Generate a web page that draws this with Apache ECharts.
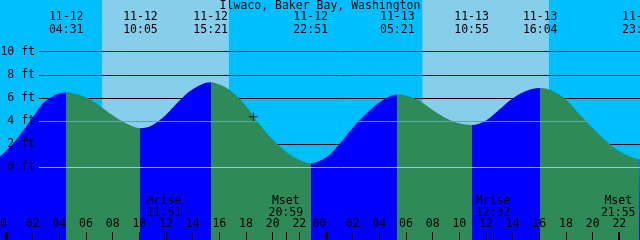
<!DOCTYPE html>
<html>
<head>
<meta charset="utf-8">
<script src="https://cdn.jsdelivr.net/npm/echarts@6/dist/echarts.min.js"></script>
<style>
  html, body { margin: 0; padding: 0; background: #fff; }
  #chart { width: 640px; height: 240px; }
</style>
</head>
<body>
<div id="chart"></div>
<script>
// 潮位读数：横轴为 11-12 00:00 起的小时数，纵轴为英尺
const tideHours = [-0.45, 0, 1, 2, 3, 4.517, 6, 7, 8, 9, 10.083, 11, 12, 13, 14, 15.35, 16, 17, 18, 19, 20, 21, 22, 22.85,
  24, 25, 26, 27, 28, 29.35, 30, 31, 32, 33, 34, 34.917, 36, 37, 38, 39, 40.067, 41, 42, 43, 44, 45, 46, 47, 47.5, 47.55];
const tideFeet = [0.92, 1.4, 2.7, 4.3, 5.75, 6.49, 6.05, 5.35, 4.5, 3.8, 3.37, 3.66, 4.55, 5.75, 6.75, 7.35, 7.15, 6.5, 5.3, 3.75, 2.4, 1.35, 0.65, 0.35,
  0.85, 2.0, 3.4, 4.6, 5.6, 6.3, 6.2, 5.75, 4.95, 4.25, 3.8, 3.66, 4.05, 5.0, 5.95, 6.6, 6.86, 6.6, 5.85, 4.6, 3.4, 2.3, 1.4, 0.85, 0.7, 0.7];

// 高低潮时刻（顶部标签）
const extremaHours = [4.517, 10.083, 15.35, 22.85, 29.35, 34.917, 40.067, 47.5];
const extremaLabels = ["11-12\n04:31", "11-12\n10:05", "11-12\n15:21", "11-12\n22:51",
  "11-13\n05:21", "11-13\n10:55", "11-13\n16:04", "11-13\n23:30"];

// 日出日落
const dayStarts = [7.2, 31.22];
const dayEnds = [16.72, 40.72];

// 月出月落
const moonHours = [11.85, 20.983, 36.533, 45.917];
const moonLabels = ["Mrise\n11:51", "Mset\n20:59", "Mrise\n12:32", "Mset\n21:55"];

// 刻度
const hourTicks = [0, 2, 4, 6, 8, 10, 12, 14, 16, 18, 20, 22, 24, 26, 28, 30, 32, 34, 36, 38, 40, 42, 44, 46];
const midnightTicks = [0, 24];
const midnightLabelHours = [-0.45, 23.5];
const depthLevels = [2, 4, 6, 8, 10];
const feetTicks = [0, 2, 4, 6, 8, 10];
const meanLevel = 4;
const datumLevel = 0;
const nowMark = [18.55, 4.38];

const X_MIN = -0.45, X_MAX = 47.55;
const Y_MIN = -6.29, Y_MAX = 14.47;
const LINE_START = 2.475;

const FONT = "DejaVu Sans Mono";
const FS = 11.5;
const RISE = "#0000ff", FALL = "#2e8b57";
const NIGHT = "#00bfff", DAY = "#87ceeb";

// 涨潮蓝、落潮绿
const pieces = [{ lt: extremaHours[0], color: RISE }];
extremaHours.forEach((h, i) => {
  const p = { gte: h, color: i % 2 === 0 ? FALL : RISE };
  if (i + 1 < extremaHours.length) p.lt = extremaHours[i + 1];
  pieces.push(p);
});

const tideData = tideHours.map((h, i) => [h, tideFeet[i]]);

const baseX = {
  type: "value", min: X_MIN, max: X_MAX, z: 10,
  axisLine: { show: false, onZero: false }, splitLine: { show: false },
};
const labelStyle = { color: "#000", fontFamily: FONT, fontSize: FS };

const option = {
  animation: false,
  title: {
    text: "Ilwaco, Baker Bay, Washington",
    left: "center", top: 0, padding: 0,
    textStyle: { ...labelStyle, fontWeight: "normal" },
  },
  grid: {
    left: 0, right: 0, top: 0, bottom: 0, outerBoundsMode: "none", containLabel: false,
    show: true, backgroundColor: NIGHT, borderWidth: 0,
  },
  xAxis: [
    {
      ...baseX, position: "bottom",
      axisTick: { inside: true, length: 8, customValues: hourTicks, lineStyle: { color: "#000" } },
      axisLabel: {
        ...labelStyle, inside: true, margin: 10, customValues: hourTicks.filter((h) => h % 24 !== 0),
        formatter: (v) => String(v % 24).padStart(2, "0"),
      },
    },
    {
      ...baseX, position: "bottom",
      axisTick: { inside: true, length: 8, customValues: midnightTicks, lineStyle: { color: "#000", width: 3 } },
      axisLabel: { ...labelStyle, inside: true, margin: 10, customValues: midnightLabelHours, formatter: () => "00" },
    },
    {
      ...baseX, position: "bottom",
      axisTick: { inside: true, length: 8, customValues: moonHours, lineStyle: { color: "#000" } },
      axisLabel: {
        ...labelStyle, inside: true, margin: 21, lineHeight: 12, customValues: moonHours,
        formatter: (v) => moonLabels[moonHours.indexOf(v)],
      },
    },
    {
      ...baseX, position: "top",
      axisTick: { show: false },
      axisLabel: {
        ...labelStyle, inside: true, margin: 11, lineHeight: 13, verticalAlign: "top", customValues: extremaHours,
        formatter: (v) => extremaLabels[extremaHours.indexOf(v)],
      },
    },
  ],
  yAxis: {
    type: "value", min: Y_MIN, max: Y_MAX, z: 10,
    axisLine: { show: false, onZero: false }, axisTick: { show: false }, splitLine: { show: false },
    axisLabel: { ...labelStyle, inside: true, align: "right", margin: 35, customValues: feetTicks, formatter: (v) => v + " ft" },
  },
  visualMap: { show: false, type: "piecewise", dimension: 0, seriesIndex: 1, pieces },
  series: [
    {
      // 背景：白天色带与深度线
      type: "line", data: tideData, z: 1, symbol: "none", silent: true,
      lineStyle: { width: 0, opacity: 0 },
      markArea: {
        z: 1, silent: true,
        data: dayStarts.map((s, i) => [{ xAxis: s, itemStyle: { color: DAY, opacity: 1 } }, { xAxis: dayEnds[i] }]),
      },
      markLine: {
        z: 2, silent: true, symbol: ["none", "none"], label: { show: false },
        lineStyle: { color: "#000", width: 1, type: "solid" },
        data: depthLevels.map((v) => [{ coord: [LINE_START, v] }, { coord: [X_MAX, v] }]),
      },
    },
    {
      type: "line", data: tideData, z: 3, smooth: 0.35, symbol: "none", silent: true,
      lineStyle: { width: 0 },
      areaStyle: { opacity: 1, origin: "start" },
      markLine: {
        z: 5, silent: true, symbol: ["none", "none"], label: { show: false },
        data: [
          [{ coord: [LINE_START, meanLevel], lineStyle: { color: "#5aa8a0", width: 1, type: "solid" } }, { coord: [X_MAX, meanLevel] }],
          [{ coord: [LINE_START, datumLevel], lineStyle: { color: "#90cce8", width: 1, type: "solid" } }, { coord: [X_MAX, datumLevel] }],
        ],
      },
    },
    {
      type: "scatter", data: [nowMark], z: 6, silent: true,
      symbol: "path://M0 4h9v1H0zM4 0h1v9H4z", symbolSize: 9,
      itemStyle: { color: "#000" },
    },
  ],
};

const chart = echarts.init(document.getElementById("chart"));
chart.setOption(option);
</script>
</body>
</html>
